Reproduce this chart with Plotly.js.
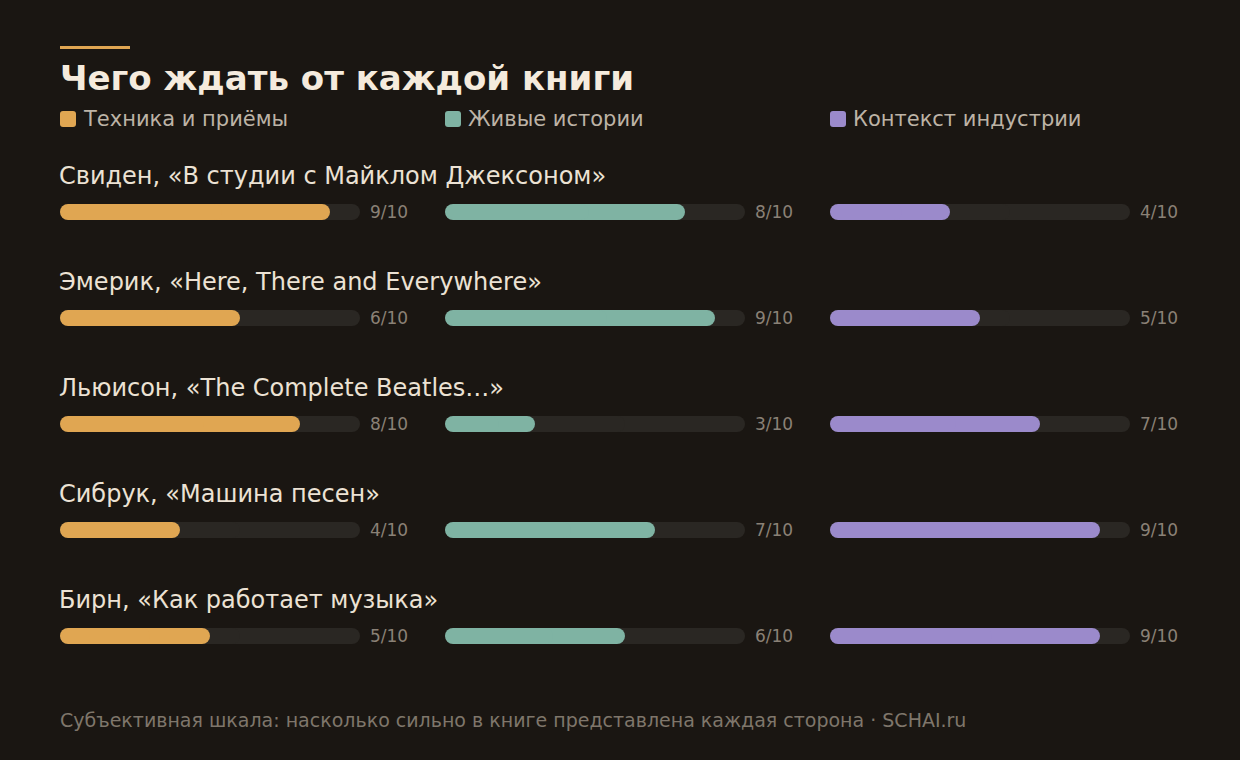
<!DOCTYPE html>
<html><head><meta charset="utf-8">
<script src="https://cdn.plot.ly/plotly-3.0.1.min.js"></script>
<style>html,body{margin:0;padding:0;background:#1a1612;}#chart{width:1240px;height:760px;}</style>
</head><body><div id="chart"></div>
<script>
// ---- data ----
const books = [
  'Свиден, «В студии с Майклом Джексоном»',
  'Эмерик, «Here, There and Everywhere»',
  'Льюисон, «The Complete Beatles…»',
  'Сибрук, «Машина песен»',
  'Бирн, «Как работает музыка»'
];
const seriesNames = ['Техника и приёмы', 'Живые истории', 'Контекст индустрии'];
const technique = [9, 6, 8, 4, 5];
const stories   = [8, 9, 3, 7, 6];
const industry  = [4, 5, 7, 9, 9];
const maxScore = 10;
const titleText = 'Чего ждать от каждой книги';
const footerText = 'Субъективная шкала: насколько сильно в книге представлена каждая сторона · SCHAI.ru';

// ---- styles ----
const W = 1240, H = 760;
const colors = ['#e0a652', '#7fb3a3', '#9b8acb'];
const trackColor = '#2a2723';
const bg = '#1a1612';
const font = '"DejaVu Sans", sans-serif';
const series = [technique, stories, industry];
const axisIds = ['x', 'x2', 'x3'];
const colLeft = [60, 445, 830];
const colWidth = 300;
const rowTop = 212, rowStep = 106, barPx = 16;
const rows = books.map((_, i) => i);

const traces = [];
function pill(values, color, xa, name) {
  // two overlapping halves so that both ends get rounded corners
  traces.push({
    type: 'bar', orientation: 'h', xaxis: xa, yaxis: 'y',
    y: rows, x: values.map(v => v * 0.6), base: values.map(v => v * 0.4),
    width: barPx / rowStep, marker: {color: color, cornerradius: '50%', line: {width: 0}},
    hoverinfo: 'skip', showlegend: false, name: name
  });
  traces.push({
    type: 'bar', orientation: 'h', xaxis: xa, yaxis: 'y',
    y: rows, x: values.map(v => -v * 0.6), base: values.map(v => v * 0.6),
    width: barPx / rowStep, marker: {color: color, cornerradius: '50%', line: {width: 0}},
    hoverinfo: 'skip', showlegend: false, name: name
  });
}
series.forEach((vals, s) => {
  pill(vals.map(() => maxScore), trackColor, axisIds[s], 'track');
  pill(vals, colors[s], axisIds[s], seriesNames[s]);
});

const annotations = [];
const shapes = [];
const py = p => 1 - p / H;
const px = p => p / W;

// title & accent
shapes.push({type: 'rect', xref: 'paper', yref: 'paper', x0: px(60), x1: px(130), y0: py(49), y1: py(46),
  fillcolor: colors[0], line: {width: 0}});
annotations.push({xref: 'paper', yref: 'paper', x: px(58), y: py(78), xanchor: 'left', yanchor: 'middle',
  text: '<b>' + titleText + '</b>', showarrow: false, font: {family: font, size: 34, color: '#f5ebdd'}});

// legend
const sq = 'M -5,-8 H 5 Q 8,-8 8,-5 V 5 Q 8,8 5,8 H -5 Q -8,8 -8,5 V -5 Q -8,-8 -5,-8 Z';
seriesNames.forEach((n, s) => {
  const x0 = colLeft[s];
  shapes.push({type: 'path', xref: 'paper', yref: 'paper', xsizemode: 'pixel', ysizemode: 'pixel',
    xanchor: px(x0 + 8), yanchor: py(119), path: sq, fillcolor: colors[s], line: {width: 0}});
  annotations.push({xref: 'paper', yref: 'paper', x: px(x0 + 21), y: py(119), xanchor: 'left', yanchor: 'middle',
    text: n, showarrow: false, font: {family: font, size: 21, color: '#bdb3a6'}});
});

// book labels
books.forEach((b, i) => {
  annotations.push({xref: 'paper', yref: 'y', x: px(57), y: i - 36 / rowStep, xanchor: 'left', yanchor: 'middle',
    text: b, showarrow: false, font: {family: font, size: 24, color: '#ece2d4'}});
});

// value labels
series.forEach((vals, s) => {
  vals.forEach((v, i) => {
    annotations.push({xref: axisIds[s], yref: 'y', x: maxScore, y: i, xanchor: 'left', yanchor: 'middle', xshift: 8,
      text: v + '/' + maxScore, showarrow: false, font: {family: font, size: 17, color: '#8a8176'}});
  });
});

// footer
annotations.push({xref: 'paper', yref: 'paper', x: px(58), y: py(720), xanchor: 'left', yanchor: 'middle',
  text: footerText, showarrow: false, font: {family: font, size: 19, color: '#7f766b'}});

const yTop = -rowTop / rowStep, yBottom = (H - rowTop) / rowStep;
const xaxisBase = s => ({domain: [px(colLeft[s]), px(colLeft[s] + colWidth)], range: [0, maxScore],
  visible: false, fixedrange: true, anchor: 'y', showgrid: false, zeroline: false});

const layout = {
  width: W, height: H, paper_bgcolor: bg, plot_bgcolor: 'rgba(0,0,0,0)',
  margin: {l: 0, r: 0, t: 0, b: 0}, barmode: 'overlay', showlegend: false,
  xaxis: xaxisBase(0), xaxis2: xaxisBase(1), xaxis3: xaxisBase(2),
  yaxis: {domain: [0, 1], range: [yBottom, yTop], visible: false, fixedrange: true, showgrid: false, zeroline: false},
  annotations: annotations, shapes: shapes, font: {family: font}
};
Plotly.newPlot('chart', traces, layout, {displayModeBar: false, staticPlot: true});
</script></body></html>
